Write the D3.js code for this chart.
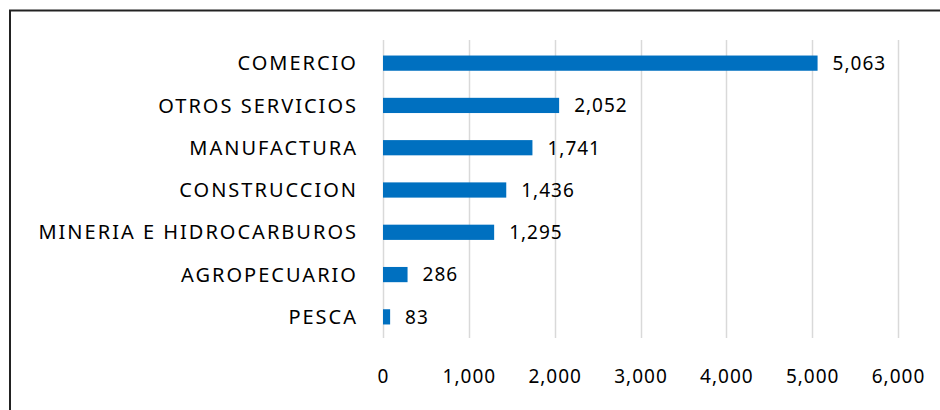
<!DOCTYPE html>
<html>
<head>
<meta charset="utf-8">
<script src="https://cdn.jsdelivr.net/npm/d3@7"></script>
<style>
    body { margin: 0; background: #fff; }
    svg text { font-family: "Noto Sans", "DejaVu Sans", sans-serif; fill: #000; }
</style>
</head>
<body>
<div id="chart"></div>
<script>
// chart data
var sectores = ["COMERCIO", "OTROS SERVICIOS", "MANUFACTURA", "CONSTRUCCION",
    "MINERIA E HIDROCARBUROS", "AGROPECUARIO", "PESCA"];
var valores = [5063, 2052, 1741, 1436, 1295, 286, 83];
var ticksX = [0, 1000, 2000, 3000, 4000, 5000, 6000];

var width = 940, height = 410;
var margin = { top: 42, right: 42, bottom: 72, left: 383 };

var svg = d3.select("#chart")
    .append("svg")
    .attr("width", width)
    .attr("height", height);

// outer frame (only left and top visible in the picture)
svg.append("rect")
    .attr("x", 10)
    .attr("y", 10.5)
    .attr("width", width + 20)
    .attr("height", height + 20)
    .attr("fill", "none")
    .attr("stroke", "#222")
    .attr("stroke-width", 2);

var x = d3.scaleLinear()
    .domain([0, 6000])
    .range([margin.left, 898]);

var y = d3.scaleBand()
    .domain(sectores)
    .range([margin.top, height - margin.bottom])
    .paddingInner(0.64)
    .paddingOuter(0.32);

// vertical gridlines
svg.append("g")
    .selectAll("line")
    .data(ticksX)
    .join("line")
    .attr("x1", function (d) { return Math.round(x(d)) + 0.5; })
    .attr("x2", function (d) { return Math.round(x(d)) + 0.5; })
    .attr("y1", margin.top - 2)
    .attr("y2", height - margin.bottom)
    .attr("stroke", "#d9d9d9")
    .attr("stroke-width", 1.5);

// x axis labels
var xAxis = svg.append("g")
    .attr("transform", "translate(0," + (height - margin.bottom) + ")")
    .call(d3.axisBottom(x).tickValues(ticksX).tickFormat(d3.format(",")).tickSize(0).tickPadding(32));
xAxis.select(".domain").remove();
xAxis.selectAll("text")
    .style("font-size", "19px")
    .style("letter-spacing", "1px")
    .attr("fill", "#000");

// bars
svg.append("g")
    .selectAll("rect")
    .data(valores)
    .join("rect")
    .attr("x", x(0))
    .attr("y", function (d, i) { return y(sectores[i]); })
    .attr("width", function (d) { return x(d) - x(0); })
    .attr("height", y.bandwidth())
    .attr("fill", "#0070c0");

// category labels
svg.append("g")
    .selectAll("text")
    .data(sectores)
    .join("text")
    .attr("x", 358)
    .attr("y", function (d) { return y(d) + y.bandwidth() / 2; })
    .attr("dy", "0.36em")
    .attr("text-anchor", "end")
    .style("font-size", "20px")
    .style("letter-spacing", "2px")
    .text(function (d) { return d; });

// value labels
svg.append("g")
    .selectAll("text")
    .data(valores)
    .join("text")
    .attr("x", function (d) { return x(d) + 15; })
    .attr("y", function (d, i) { return y(sectores[i]) + y.bandwidth() / 2; })
    .attr("dy", "0.36em")
    .style("font-size", "19px")
    .style("letter-spacing", "1px")
    .text(function (d) { return d3.format(",")(d); });
</script>
</body>
</html>
